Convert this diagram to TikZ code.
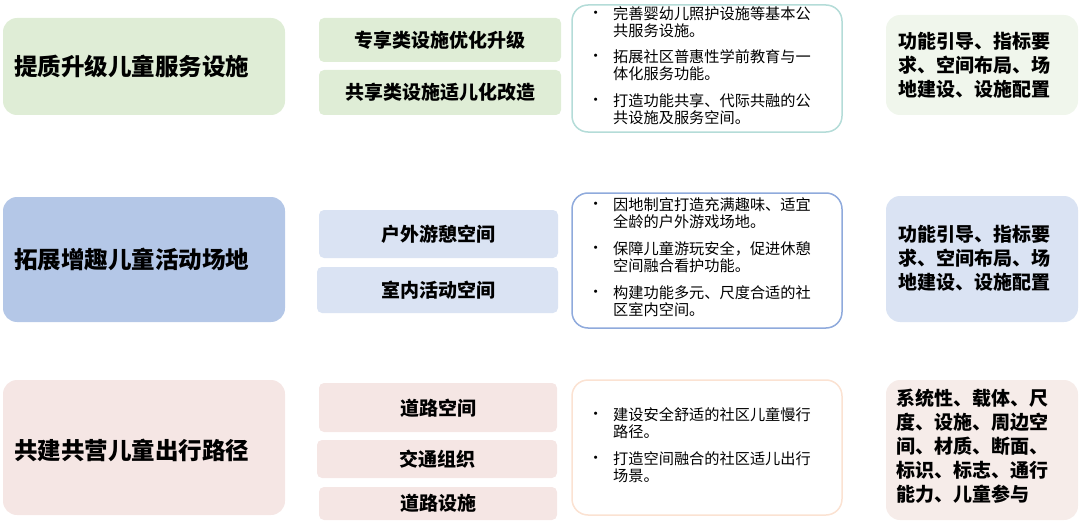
\documentclass[tikz,border=0pt]{standalone}
\usepackage{fontspec}
\setmainfont{Noto Sans CJK SC}
\begin{document}
\begin{tikzpicture}[x=1pt,y=-1pt,
  big/.style={rounded corners=14pt},
  sub/.style={rounded corners=5pt},
  lst/.style={rounded corners=16pt,line width=1.5pt,fill=white},
  bigt/.style={font=\fontsize{23.5}{28}\selectfont\bfseries},
  subt/.style={font=\fontsize{19}{22}\selectfont\bfseries},
  rt/.style={font=\fontsize{19}{24}\selectfont\bfseries,align=left},
  bt/.style={anchor=north west,inner sep=0pt,align=left,font=\fontsize{15.2}{17.5}\selectfont},
  dot/.style={anchor=north west,inner sep=0pt,font=\fontsize{15.2}{17.5}\selectfont}]
\definecolor{g1}{HTML}{DFEDD6}\definecolor{g2}{HTML}{F0F6EC}\definecolor{gb}{HTML}{B4DCD8}
\definecolor{b1}{HTML}{B4C7E7}\definecolor{b2}{HTML}{DAE3F3}\definecolor{bb}{HTML}{8FAADC}
\definecolor{p1}{HTML}{F5E6E4}\definecolor{p2}{HTML}{F6ECE9}\definecolor{pb}{HTML}{FBE2D2}
\useasboundingbox (0,0) rectangle (1080,527);
% row 1
\fill[g1,big] (3,18) rectangle (285,115);
\node[bigt] (a1) at (132,66) {提质升级儿童服务设施};
\fill[g1,sub] (319,18) rectangle (561,62);
\node[subt] (a2) at (440,40) {专享类设施优化升级};
\fill[g1,sub] (319,70) rectangle (561,115);
\node[subt] (a3) at (440,92) {共享类设施适儿化改造};
\draw[gb,lst] (572,5) rectangle (842,132);
\node[dot] (d1) at (588,11) {•}; \node[bt] (t1) at (613,6) {完善婴幼儿照护设施等基本公\\共服务设施。};
\node[dot] (d2) at (588,54) {•}; \node[bt] (t2) at (613,49) {拓展社区普惠性学前教育与一\\体化服务功能。};
\node[dot] (d3) at (588,98) {•}; \node[bt] (t3) at (613,93) {打造功能共享、代际共融的公\\共设施及服务空间。};
\fill[g2,big] (886,15) rectangle (1078,115);
\node[rt] (r1) at (974,65) {功能引导、指标要\\求、空间布局、场\\地建设、设施配置};
% row 2
\fill[b1,big] (3,197) rectangle (285,322);
\node[bigt] (b1n) at (132,260) {拓展增趣儿童活动场地};
\fill[b2,sub] (319,210) rectangle (558,258);
\node[subt] (b2n) at (438,234) {户外游憩空间};
\fill[b2,sub] (317,267) rectangle (558,313);
\node[subt] (b3n) at (438,290) {室内活动空间};
\draw[bb,lst] (572,193) rectangle (842,328);
\node[dot] (e1) at (588,202) {•}; \node[bt] (u1) at (613,197) {因地制宜打造充满趣味、适宜\\全龄的户外游戏场地。};
\node[dot] (e2) at (588,246) {•}; \node[bt] (u2) at (613,241) {保障儿童游玩安全，促进休憩\\空间融合看护功能。};
\node[dot] (e3) at (588,290) {•}; \node[bt] (u3) at (613,285) {构建功能多元、尺度合适的社\\区室内空间。};
\fill[b2,big] (886,196) rectangle (1078,322);
\node[rt] (r2) at (974,258) {功能引导、指标要\\求、空间布局、场\\地建设、设施配置};
% row 3
\fill[p1,big] (3,380) rectangle (285,515);
\node[bigt] (c1) at (132,450) {共建共营儿童出行路径};
\fill[p1,sub] (319,383) rectangle (557,432);
\node[subt] (c2) at (438,408) {道路空间};
\fill[p1,sub] (317,440) rectangle (557,478);
\node[subt] (c3) at (437,459) {交通组织};
\fill[p1,sub] (319,487) rectangle (557,520);
\node[subt] (c4) at (438,503) {道路设施};
\draw[pb,lst] (572,380) rectangle (842,515);
\node[dot] (f1) at (588,412) {•}; \node[bt] (v1) at (613,407) {建设安全舒适的社区儿童慢行\\路径。};
\node[dot] (f2) at (588,456) {•}; \node[bt] (v2) at (613,451) {打造空间融合的社区适儿出行\\场景。};
\fill[p2,big] (886,380) rectangle (1078,520);
\node[rt] (r3) at (972,446) {系统性、载体、尺\\度、设施、周边空\\间、材质、断面、\\标识、标志、通行\\能力、儿童参与};
\end{tikzpicture}
\end{document}
